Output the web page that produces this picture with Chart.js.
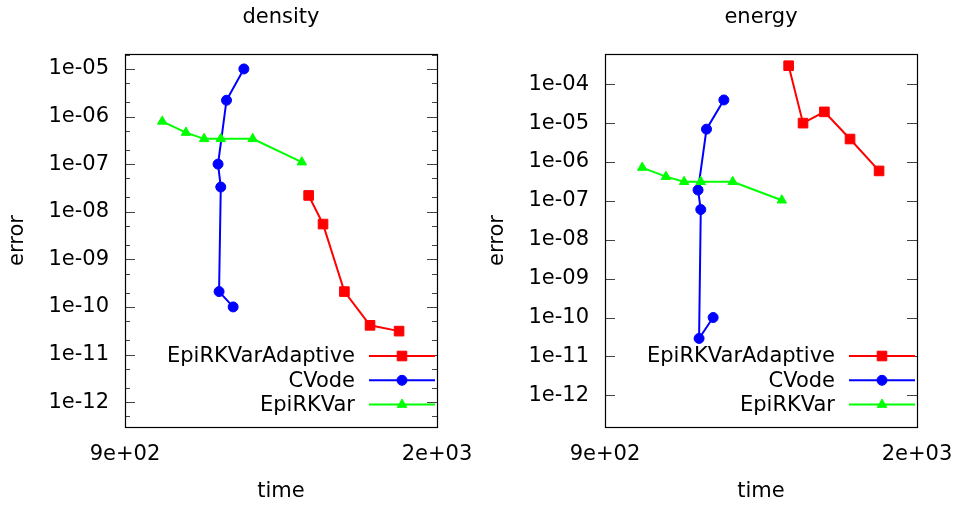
<!DOCTYPE html>
<html>
<head>
<meta charset="utf-8">
<script src="https://cdn.jsdelivr.net/npm/chart.js@4.4.1/dist/chart.umd.min.js"></script>
<style>
    html, body { margin: 0; padding: 0; background: #fff; }
    .panel { position: absolute; top: 0; height: 506px; }
    #left { left: 0; width: 480px; }
    #right { left: 480px; width: 479px; }
</style>
</head>
<body>
<div class="panel" id="left"><canvas id="density-chart" width="480" height="506"></canvas></div>
<div class="panel" id="right"><canvas id="energy-chart" width="479" height="506"></canvas></div>
<script>
// Series labels, in the order gnuplot listed them in the key
const seriesLabels = ["EpiRKVarAdaptive", "CVode", "EpiRKVar"];

// Run times (x) for each method, shared by both panels
const adaptiveTime = [1440, 1494, 1578, 1685, 1815];
const cvodeTime = [1220, 1167, 1142, 1150, 1145, 1187];
const epiTime = [990, 1052, 1102, 1150, 1248, 1415];

// Density errors
const densityAdaptive = [2.2e-8, 5.5e-9, 2.1e-10, 4.1e-11, 3.1e-11];
const densityCvode = [1.0e-5, 2.2e-6, 1.0e-7, 3.3e-8, 2.1e-10, 1.0e-10];
const densityEpi = [7.9e-7, 4.6e-7, 3.4e-7, 3.4e-7, 3.4e-7, 1.1e-7];

// Energy errors
const energyAdaptive = [3.0e-4, 1.0e-5, 1.95e-5, 3.9e-6, 5.9e-7];
const energyCvode = [3.95e-5, 7.0e-6, 1.9e-7, 6.0e-8, 2.9e-11, 1.0e-10];
const energyEpi = [7.2e-7, 4.2e-7, 3.1e-7, 3.1e-7, 3.1e-7, 1.04e-7];

// Tick values
const timeTicks = [900, 2000];
const densityTicks = [1e-5, 1e-6, 1e-7, 1e-8, 1e-9, 1e-10, 1e-11, 1e-12];
const energyTicks = [1e-4, 1e-5, 1e-6, 1e-7, 1e-8, 1e-9, 1e-10, 1e-11, 1e-12];
// Minor tick multipliers (only the density panel has them)
const densityMinor = [2, 5];

Chart.defaults.font.family = '"DejaVu Sans", sans-serif';
Chart.defaults.font.size = 21;
Chart.defaults.color = "#000";

/** gnuplot style exponent label, e.g. 1e-05, 9e+02 */
function expLabel(value) {
    let parts = Number(value).toExponential(0).split("e");
    let exp = parts[1];
    return parts[0] + "e" + exp[0] + exp.slice(1).padStart(2, "0");
}

function toPoints(xs, ys) {
    return xs.map((x, i) => ({ x: x, y: ys[i] }));
}

// Title centred over the plot box (the built-in one centres on the whole canvas)
const panelTitle = {
    id: "panelTitle",
    afterDraw(chart, args, opts) {
        const ctx = chart.ctx;
        const area = chart.chartArea;
        ctx.save();
        ctx.font = '21px "DejaVu Sans", sans-serif';
        ctx.fillStyle = "#000";
        ctx.textAlign = "center";
        ctx.textBaseline = "middle";
        ctx.fillText(opts.text, (area.left + area.right) / 2, 18);
        ctx.restore();
    }
};

// Draws the closed frame plus inward (mirrored) tick marks
const frameTicks = {
    id: "frameTicks",
    beforeDatasetsDraw(chart, args, opts) {
        const ctx = chart.ctx;
        const area = chart.chartArea;
        const yScale = chart.scales.y;
        ctx.save();
        ctx.strokeStyle = "#444";
        ctx.lineWidth = 1;
        ctx.beginPath();
        yScale.ticks.forEach((t) => {
            let py = Math.round(yScale.getPixelForValue(t.value)) + 0.5;
            ctx.moveTo(area.left, py);
            ctx.lineTo(area.left + 10, py);
            ctx.moveTo(area.right - 10, py);
            ctx.lineTo(area.right, py);
        });
        // Minor ticks inside each decade
        if (opts.minor && opts.minor.length) {
            let lo = Math.floor(Math.log10(yScale.min));
            let hi = Math.ceil(Math.log10(yScale.max));
            for (let e = lo; e <= hi; e++) {
                opts.minor.forEach((m) => {
                    let v = m * Math.pow(10, e);
                    if (v <= yScale.min || v >= yScale.max) return;
                    let py = Math.round(yScale.getPixelForValue(v)) + 0.5;
                    ctx.moveTo(area.left, py);
                    ctx.lineTo(area.left + 5, py);
                    ctx.moveTo(area.right - 5, py);
                    ctx.lineTo(area.right, py);
                });
            }
        }
        ctx.stroke();

        ctx.strokeStyle = "#000";
        ctx.lineWidth = 1.2;
        ctx.strokeRect(area.left + 0.5, area.top + 0.5, area.right - area.left, area.bottom - area.top);
        ctx.restore();
    }
};

// Key drawn inside the plot, bottom right, text right-aligned before the sample
const insideKey = {
    id: "insideKey",
    afterDatasetsDraw(chart) {
        const ctx = chart.ctx;
        const area = chart.chartArea;
        ctx.save();
        ctx.font = '21px "DejaVu Sans", sans-serif';
        ctx.textAlign = "right";
        ctx.textBaseline = "middle";
        chart.data.datasets.forEach((ds, i) => {
            let y = area.bottom - 71 + i * 24.3;
            ctx.fillStyle = "#000";
            ctx.fillText(ds.label, area.right - 82, y + 1);

            ctx.strokeStyle = ds.borderColor;
            ctx.lineWidth = ds.borderWidth;
            ctx.beginPath();
            ctx.moveTo(area.right - 68, y);
            ctx.lineTo(area.right - 2, y);
            ctx.stroke();

            ctx.fillStyle = ds.pointBackgroundColor;
            ctx.strokeStyle = ds.pointBorderColor;
            ctx.lineWidth = 1;
            Chart.helpers.drawPoint(ctx, {
                pointStyle: ds.pointStyle,
                radius: ds.pointRadius,
                borderWidth: 1,
                rotation: 0
            }, area.right - 35, y);
        });
        ctx.restore();
    }
};

function makeDataset(label, xs, ys, color, style, radius, order) {
    return {
        label: label,
        data: toPoints(xs, ys),
        borderColor: color,
        backgroundColor: color,
        pointBackgroundColor: color,
        pointBorderColor: color,
        borderWidth: 2,
        pointStyle: style,
        pointRadius: radius,
        pointBorderWidth: 1,
        tension: 0,
        order: order
    };
}

function createErrorChart(id, title, yMin, yMax, yTicks, minor, adaptiveErr, cvodeErr, epiErr) {
    var canvas = document.getElementById(id);
    var datasets = [
        makeDataset(seriesLabels[0], adaptiveTime, adaptiveErr, "#ff0000", "rect", 6.8, 2),
        makeDataset(seriesLabels[1], cvodeTime, cvodeErr, "#0000ff", "circle", 5, 1),
        makeDataset(seriesLabels[2], epiTime, epiErr, "#00ff00", "triangle", 5.5, 0)
    ];

    var options = {
        responsive: false,
        animation: false,
        layout: { padding: { left: 0, right: canvas.width - 437, top: 54, bottom: 0 } },
        plugins: {
            legend: { display: false },
            tooltip: { enabled: false },
            title: { display: false },
            panelTitle: { text: title },
            frameTicks: { minor: minor }
        },
        scales: {
            x: {
                type: "logarithmic",
                min: timeTicks[0],
                max: timeTicks[timeTicks.length - 1],
                grid: { display: false, drawTicks: false },
                border: { display: false },
                afterBuildTicks: (scale) => { scale.ticks = timeTicks.map((v) => ({ value: v })); },
                afterFit: (scale) => {
                    scale.height = 79;
                    // the layout padding alone decides the plot box
                    scale.paddingLeft = 0;
                    scale.paddingRight = 0;
                },
                ticks: { autoSkip: false, maxRotation: 0, padding: 15, callback: (v) => expLabel(v) },
                title: { display: true, text: "time", padding: { top: 0, bottom: 2 } }
            },
            y: {
                type: "logarithmic",
                min: yMin,
                max: yMax,
                grid: { display: false, drawTicks: false },
                border: { display: false },
                afterBuildTicks: (scale) => { scale.ticks = yTicks.map((v) => ({ value: v })); },
                afterFit: (scale) => {
                    scale.width = 125;
                    scale.paddingTop = 0;
                    scale.paddingBottom = 0;
                },
                ticks: { autoSkip: false, padding: 16, callback: (v) => expLabel(v) },
                title: { display: true, text: "error", padding: { top: 5.4, bottom: 0 } }
            }
        }
    };

    return new Chart(canvas.getContext("2d"), {
        type: "line",
        data: { datasets: datasets },
        options: options,
        plugins: [frameTicks, insideKey, panelTitle]
    });
}

createErrorChart("density-chart", "density", 3.1e-13, 2.06e-5, densityTicks, densityMinor,
    densityAdaptive, densityCvode, densityEpi);
createErrorChart("energy-chart", "energy", 1.53e-13, 6.0e-4, energyTicks, [],
    energyAdaptive, energyCvode, energyEpi);
</script>
</body>
</html>
